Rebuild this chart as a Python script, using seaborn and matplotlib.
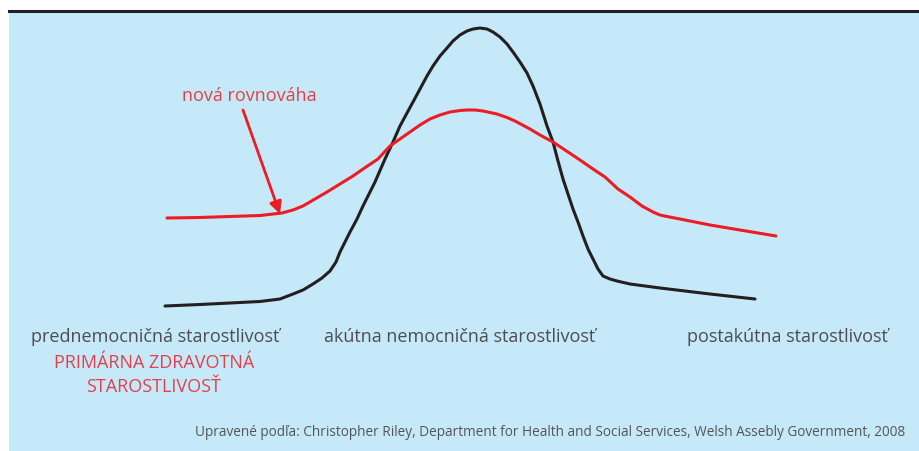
import matplotlib.pyplot as plt
import seaborn as sns
import pandas as pd

# čas (ľubovoľné jednotky) a intenzita starostlivosti (ľubovoľné jednotky)
black_x = [0, 35, 65, 95, 115, 128, 138, 148, 157, 165, 171, 175, 180, 185, 192,
           198, 204, 210, 220, 228, 235, 242, 248, 255, 262, 268, 275, 282, 288, 295,
           302, 308, 315, 322, 328, 335, 342, 348, 355, 362, 368, 375, 382, 388, 393,
           398, 403, 408, 413, 418, 423, 428, 433, 438, 445, 452, 465, 495, 545, 590]
black_y = [3, 4.5, 6, 7.5, 10, 15, 19, 25, 31, 38, 47, 57, 67, 77, 90,
           103, 115, 127, 150, 167, 183, 196, 207, 220, 233, 243, 253, 261, 268, 274,
           278, 280, 281, 280, 277, 272, 265, 257, 247, 236, 223, 205, 183, 167, 148,
           130, 115, 100, 87, 73, 60, 50, 40, 33, 30, 28, 25, 21, 15, 10]

red_x = [2, 35, 65, 95, 117, 128, 138, 150, 162, 175, 188, 201, 213, 225, 235,
         245, 255, 265, 275, 285, 295, 302, 310, 318, 325, 332, 342, 350, 365, 375,
         388, 400, 415, 428, 440, 453, 465, 477, 488, 495, 502, 515, 545, 575, 611]
red_y = [91, 91.5, 92.5, 93.5, 96, 99, 103, 110, 117, 125, 133, 142, 150, 163, 170,
         177, 184, 190, 194, 197, 198.5, 199, 199, 198, 196.5, 195, 191.5, 188, 180, 174,
         167, 159, 149, 140, 132, 120, 112, 103, 97, 94, 92.5, 90, 84, 79, 73]

phase_labels = ['prednemocničná starostlivosť', 'akútna nemocničná starostlivosť',
                'postakútna starostlivosť']
primary_lines = ['PRIMÁRNA ZDRAVOTNÁ', 'STAROSTLIVOSŤ']
arrow_label = 'nová rovnováha'
source = ('Upravené podľa: Christopher Riley, Department for Health and Social Services, '
          'Welsh Assebly Government, 2008')

BG = '#c6e9f9'
RED = '#ed1c24'
TEXT_RED = '#e5404a'
BLACK = '#231f20'
GREY = '#4d4d4f'

sns.set_style('white')
plt.rcParams['font.family'] = ['Open Sans', 'DejaVu Sans']

fig = plt.figure(figsize=(9.2, 4.52), dpi=100)
ax = fig.add_axes([9 / 920, 0, 911 / 920, 440 / 452])
ax.set_facecolor(BG)

df_black = pd.DataFrame({'x': black_x, 'y': black_y})
df_red = pd.DataFrame({'x': red_x, 'y': red_y})
sns.lineplot(data=df_black, x='x', y='y', color=BLACK, lw=2.2, sort=False, ax=ax)
sns.lineplot(data=df_red, x='x', y='y', color=RED, lw=2.2, sort=False, ax=ax)

ax.set_xlim(-156, 755)
ax.set_ylim(-142, 298)
ax.set_xlabel('')
ax.set_ylabel('')
ax.set_xticks([])
ax.set_yticks([])
for side in ['left', 'right', 'bottom']:
    ax.spines[side].set_visible(False)
ax.spines['top'].set_color(BLACK)
ax.spines['top'].set_linewidth(2.2)

ax.annotate('', xy=(115, 95), xytext=(78, 199),
            arrowprops=dict(arrowstyle='-|>', color=RED, lw=2, mutation_scale=18,
                            shrinkA=0, shrinkB=0))
ax.text(84, 214, arrow_label, color=TEXT_RED, fontsize=13, ha='center', va='center')

ax.text(-10, -27, phase_labels[0], color=GREY, fontsize=13, ha='center', va='center')
ax.text(295, -27, phase_labels[1], color=GREY, fontsize=13, ha='center', va='center')
ax.text(622, -27, phase_labels[2], color=GREY, fontsize=13, ha='center', va='center')
ax.text(-11, -53, primary_lines[0], color=TEXT_RED, fontsize=13, ha='center', va='center')
ax.text(-11, -77, primary_lines[1], color=TEXT_RED, fontsize=13, ha='center', va='center')

ax.text(740, -123, source, color='#555555', fontsize=9.8, ha='right', va='center')

fig.savefig('out.png', dpi=100)
